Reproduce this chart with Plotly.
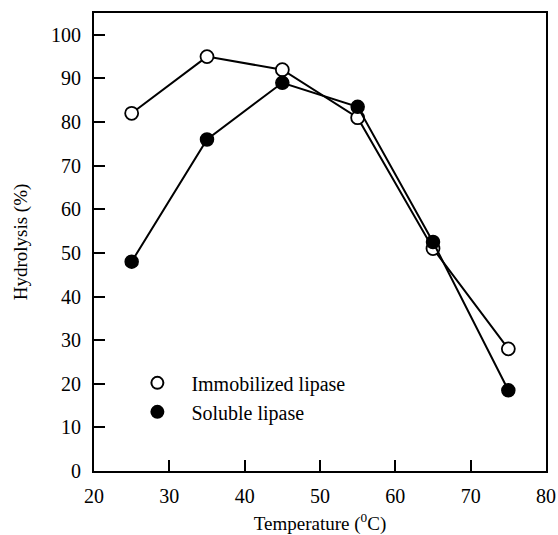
import plotly.graph_objects as go

temps = [25, 35, 45, 55, 65, 75]
immobilized = [82, 95, 92, 81, 51, 28]
soluble = [48, 76, 89, 83.5, 52.5, 18.5]
x_ticks = [20, 30, 40, 50, 60, 70, 80]
y_ticks = [0, 10, 20, 30, 40, 50, 60, 70, 80, 90, 100]

font = "Liberation Serif"
open_marker = dict(symbol="circle", size=13, color="white", line=dict(color="black", width=1.8))
filled_marker = dict(symbol="circle", size=13, color="black", line=dict(color="black", width=1.5))

fig = go.Figure()
fig.add_trace(go.Scatter(
    x=temps, y=immobilized, mode="lines+markers", name="Immobilized lipase",
    line=dict(color="black", width=2), marker=open_marker, showlegend=False,
))
fig.add_trace(go.Scatter(
    x=temps, y=soluble, mode="lines+markers", name="Soluble lipase",
    line=dict(color="black", width=2), marker=filled_marker, showlegend=False,
))
fig.add_trace(go.Scatter(x=[None], y=[None], mode="markers", name="Immobilized lipase",
                         marker=open_marker))
fig.add_trace(go.Scatter(x=[None], y=[None], mode="markers", name="Soluble lipase",
                         marker=filled_marker))
fig.update_layout(
    width=558, height=535,
    margin=dict(l=94, r=10, t=13, b=64),
    plot_bgcolor="white", paper_bgcolor="white",
    font=dict(family=font, size=20, color="black"),
    showlegend=True,
    legend=dict(x=0.065, y=0.235, xanchor="left", yanchor="top",
                bgcolor="rgba(0,0,0,0)", font=dict(family=font, size=20),
                itemsizing="constant", itemwidth=58, tracegroupgap=0),
    xaxis=dict(range=[20, 80], tickmode="array", tickvals=x_ticks, ticks="inside", ticklen=11,
               tickwidth=1.5, tickcolor="black", showline=True, linecolor="black",
               linewidth=2, mirror=True, showgrid=False, zeroline=False,
               ticklabelstandoff=6, automargin=False,
               tickfont=dict(family=font, size=20),
               title=dict(text="Temperature (<sup>0</sup>C)",
                          font=dict(family=font, size=19))),
    yaxis=dict(range=[0, 105], tickmode="array", tickvals=y_ticks, ticks="inside", ticklen=11,
               tickwidth=1.5, tickcolor="black", showline=True, linecolor="black",
               linewidth=2, mirror=True, showgrid=False, zeroline=False,
               ticklabelstandoff=7,
               tickfont=dict(family=font, size=20),
               title=dict(text="Hydrolysis (%)", standoff=18,
                          font=dict(family=font, size=19))),
)
fig.write_html("out.html")
